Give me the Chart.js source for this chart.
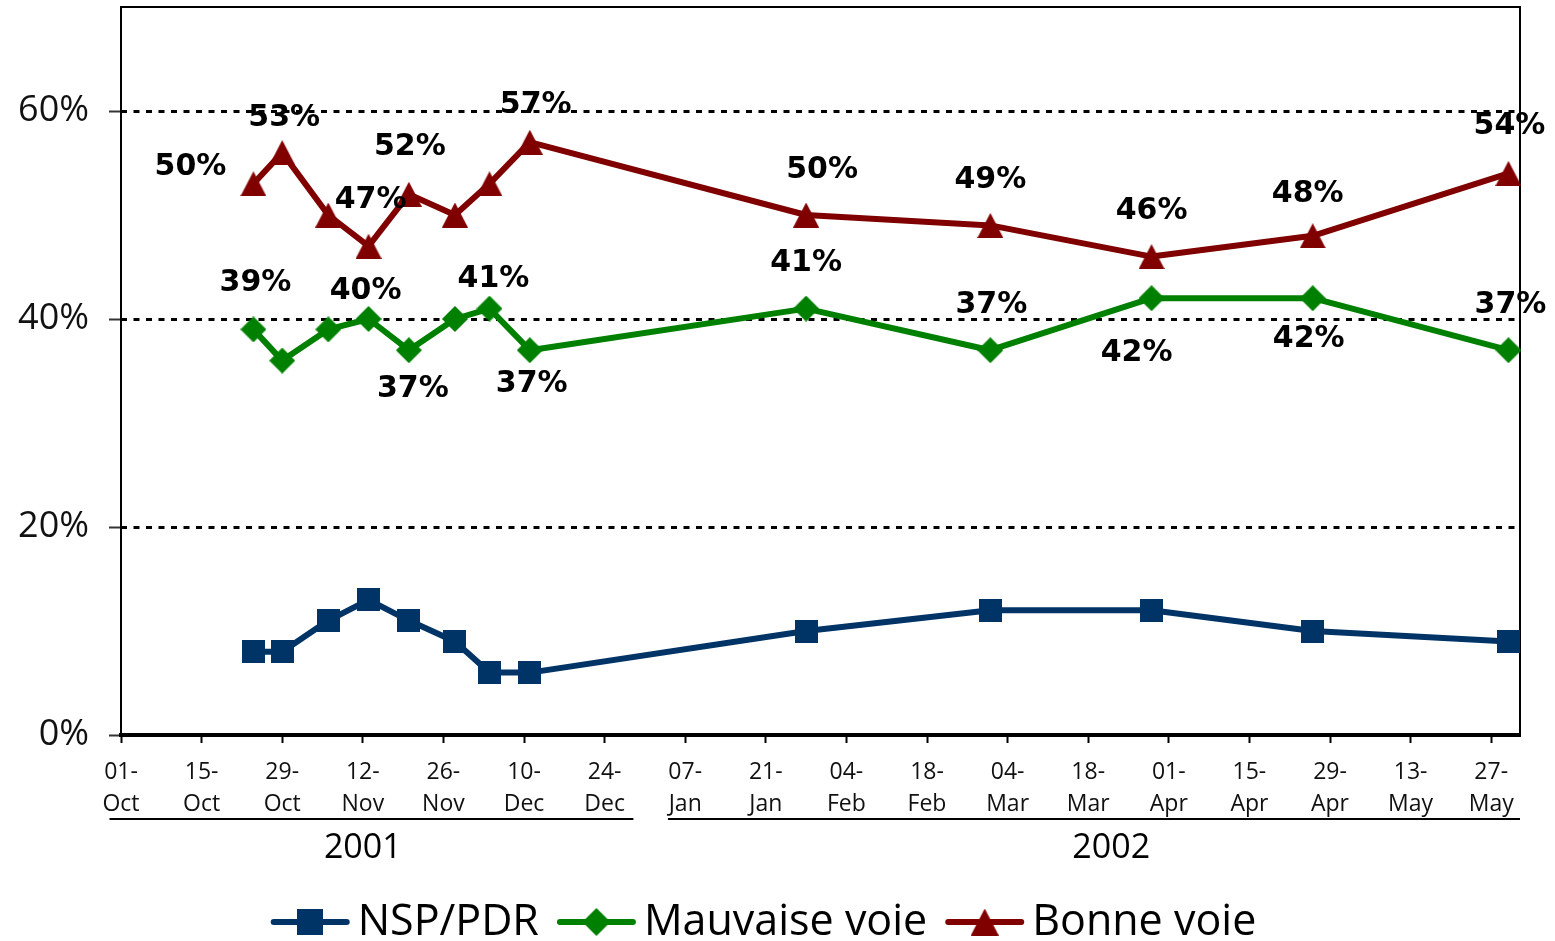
<!DOCTYPE html>
<html><head><meta charset="utf-8">
<script src="https://cdn.jsdelivr.net/npm/chart.js@4.4.1/dist/chart.umd.min.js"></script>
<style>html,body{margin:0;padding:0;background:#fff;}#wrap{width:1555px;height:941px;}</style>
</head><body><div id="wrap"><canvas id="c" width="1555" height="941"></canvas></div>
<script>
// ---------- data ----------
const surveyDates = ['2001-10-24','2001-10-29','2001-11-06','2001-11-13','2001-11-20','2001-11-28','2001-12-04','2001-12-11','2002-01-28','2002-03-01','2002-03-29','2002-04-26','2002-05-30'];
const nspPdr       = [8, 8, 11, 13, 11, 9, 6, 6, 10, 12, 12, 10, 9];
const mauvaiseVoie = [39, 36, 39, 40, 37, 40, 41, 37, 41, 37, 42, 42, 37];
const bonneVoie    = [53, 56, 50, 47, 52, 50, 53, 57, 50, 49, 46, 48, 54];
const bonneVoieLabels    = ['50%','53%',null,'47%','52%',null,null,'57%','50%','49%','46%','48%','54%'];
const mauvaiseVoieLabels = ['39%',null,null,'40%','37%',null,'41%','37%','41%','37%','42%','42%','37%'];
const seriesNames = ['NSP/PDR', 'Mauvaise voie', 'Bonne voie'];
const axisStart = '2001-10-01';
const axisEnd   = '2002-06-01';
const tickDates = ['2001-10-01','2001-10-15','2001-10-29','2001-11-12','2001-11-26','2001-12-10','2001-12-24','2002-01-07','2002-01-21','2002-02-04','2002-02-18','2002-03-04','2002-03-18','2002-04-01','2002-04-15','2002-04-29','2002-05-13','2002-05-27'];
const yTicks = [0, 20, 40, 60];
const yearLabels = ['2001', '2002'];
const yearSpans  = [['2001-09-29','2001-12-29','2001-11-12'], ['2002-01-04','2002-06-01','2002-03-22']];
const monthNames = ['Jan','Feb','Mar','Apr','May','Jun','Jul','Aug','Sep','Oct','Nov','Dec'];

// ---------- styling ----------
const colors = ['#003366', '#008000', '#800000'];
const labelOffsets = {
  2: [[-63,-17],[2,-34],null,[2,-46],[1,-47],null,null,[6,-37],[16,-45],[0,-45],[0,-45],[-5,-42],[1,-47]],
  1: [[2,-46],null,null,[-3,-28],[4,39],null,[4,-29],[2,34],[0,-45],[1,-45],[-15,55],[-4,41],[2,-45]]
};
const labelTexts = {2: bonneVoieLabels, 1: mauvaiseVoieLabels};

const base = Date.UTC(2001, 9, 1);
function dayNum(s) { const p = s.split('-').map(Number); return (Date.UTC(p[0], p[1]-1, p[2]) - base) / 86400000; }
function fmtTick(v) { const d = new Date(base + v * 86400000); const dd = String(d.getUTCDate()).padStart(2,'0'); return [dd + '-', monthNames[d.getUTCMonth()]]; }

function makeMarker(shape, w, h, color) {
  const c = document.createElement('canvas'); c.width = w; c.height = h;
  const g = c.getContext('2d'); g.fillStyle = color; g.beginPath();
  if (shape === 'square') g.rect(0, 0, w, h);
  if (shape === 'diamond') { g.moveTo(w/2, 0); g.lineTo(w, h/2); g.lineTo(w/2, h); g.lineTo(0, h/2); }
  if (shape === 'triangle') { g.moveTo(w/2, 0); g.lineTo(w, h); g.lineTo(0, h); }
  g.closePath(); g.fill(); return c;
}
const markers = [makeMarker('square', 23, 23, colors[0]), makeMarker('diamond', 26, 26, colors[1]), makeMarker('triangle', 26, 25, colors[2])];
const legendMarkers = [makeMarker('square', 26, 26, colors[0]), makeMarker('diamond', 28, 28, colors[1]), makeMarker('triangle', 28, 27, colors[2])];

const seriesValues = [nspPdr, mauvaiseVoie, bonneVoie];
const datasets = seriesValues.map((vals, k) => ({
  label: seriesNames[k],
  data: surveyDates.map((d, i) => ({x: dayNum(d), y: vals[i]})),
  borderColor: colors[k], backgroundColor: colors[k], borderWidth: 6,
  pointStyle: markers[k], pointRadius: 12, pointHoverRadius: 12,
  tension: 0, borderJoinStyle: 'round', borderCapStyle: 'round', clip: false
}));

const framePlugin = {
  id: 'frame',
  beforeDatasetsDraw(chart) {
    const {ctx, chartArea: a} = chart;
    ctx.save(); ctx.strokeStyle = '#000'; ctx.lineWidth = 2;
    ctx.beginPath(); ctx.moveTo(a.left, a.bottom); ctx.lineTo(a.left, a.top); ctx.lineTo(a.right, a.top); ctx.lineTo(a.right, a.bottom); ctx.stroke();
    ctx.restore();
  }
};
const labelPlugin = {
  id: 'dataLabels',
  afterDatasetsDraw(chart) {
    const ctx = chart.ctx; ctx.save();
    ctx.font = 'bold 30px "DejaVu Sans"'; ctx.fillStyle = '#000'; ctx.textAlign = 'center'; ctx.textBaseline = 'middle';
    Object.keys(labelTexts).forEach(k => {
      const meta = chart.getDatasetMeta(+k);
      labelTexts[k].forEach((t, i) => {
        if (!t) return; const off = labelOffsets[k][i]; const p = meta.data[i];
        ctx.fillText(t, p.x + off[0], p.y + off[1]);
      });
    });
    ctx.restore();
  }
};
const bottomPlugin = {
  id: 'bottomTexts',
  afterDraw(chart) {
    const ctx = chart.ctx, xs = chart.scales.x; ctx.save();
    ctx.strokeStyle = '#000'; ctx.lineWidth = 2; ctx.fillStyle = '#000';
    ctx.font = '34px "Open Sans"'; ctx.textAlign = 'center'; ctx.textBaseline = 'middle';
    yearLabels.forEach((lab, i) => {
      const [f, t, c] = yearSpans[i];
      ctx.beginPath(); ctx.moveTo(xs.getPixelForValue(dayNum(f)), 819); ctx.lineTo(Math.min(xs.getPixelForValue(dayNum(t)), chart.chartArea.right + 1), 819); ctx.stroke();
      ctx.fillText(lab, xs.getPixelForValue(dayNum(c)), 848);
    });
    ctx.font = '43px "Open Sans"'; ctx.textAlign = 'left';
    const lineLen = 77, gapText = 9, gapItem = 19, ly = 922;
    const widths = seriesNames.map(n => ctx.measureText(n).width);
    const total = widths.reduce((s, w) => s + lineLen + gapText + w, 0) + gapItem * (seriesNames.length - 1);
    let x = 764 - total / 2;
    seriesNames.forEach((n, k) => {
      ctx.strokeStyle = colors[k]; ctx.lineWidth = 6; ctx.lineCap = 'round';
      ctx.beginPath(); ctx.moveTo(x + 2, ly); ctx.lineTo(x + lineLen - 2, ly); ctx.stroke();
      const m = legendMarkers[k]; ctx.drawImage(m, x + lineLen / 2 - m.width / 2, ly - m.height / 2);
      ctx.fillStyle = '#000'; ctx.fillText(n, x + lineLen + gapText, ly + 1);
      x += lineLen + gapText + widths[k] + gapItem;
    });
    ctx.restore();
  }
};

new Chart(document.getElementById('c'), {
  type: 'line',
  data: {datasets},
  plugins: [framePlugin, labelPlugin, bottomPlugin],
  options: {
    responsive: false, animation: false, events: [],
    layout: {autoPadding: false, padding: {top: 7, right: 35, left: 0, bottom: 0}},
    plugins: {legend: {display: false}, tooltip: {enabled: false}},
    scales: {
      x: {
        type: 'linear', min: dayNum(axisStart), max: dayNum(axisEnd),
        afterBuildTicks: s => { s.ticks = tickDates.map(d => ({value: dayNum(d)})); },
        afterFit: s => { s.height = 206; s.paddingLeft = 0; s.paddingRight = 0; },
        ticks: {autoSkip: false, maxRotation: 0, minRotation: 0, padding: 14, color: '#111',
                font: {family: 'Open Sans', size: 23, lineHeight: 1.37}, callback: v => fmtTick(v)},
        grid: {drawOnChartArea: false, drawTicks: true, tickLength: 8, tickColor: '#000', tickWidth: 2},
        border: {display: true, color: '#000', width: 4}
      },
      y: {
        min: 0, max: 70,
        afterBuildTicks: s => { s.ticks = yTicks.map(v => ({value: v})); },
        afterFit: s => { s.width = 121; s.paddingTop = 0; s.paddingBottom = 0; },
        ticks: {padding: 20, color: '#111', font: {family: 'Open Sans', size: 36}, callback: v => v + '%'},
        grid: {color: '#000', lineWidth: 3, drawTicks: true, tickLength: 12, tickColor: '#333', tickWidth: 2, tickBorderDash: [], borderDash: [6, 6.5]},
        border: {display: false, dash: [6, 6.5]}
      }
    }
  }
});
</script></body></html>
